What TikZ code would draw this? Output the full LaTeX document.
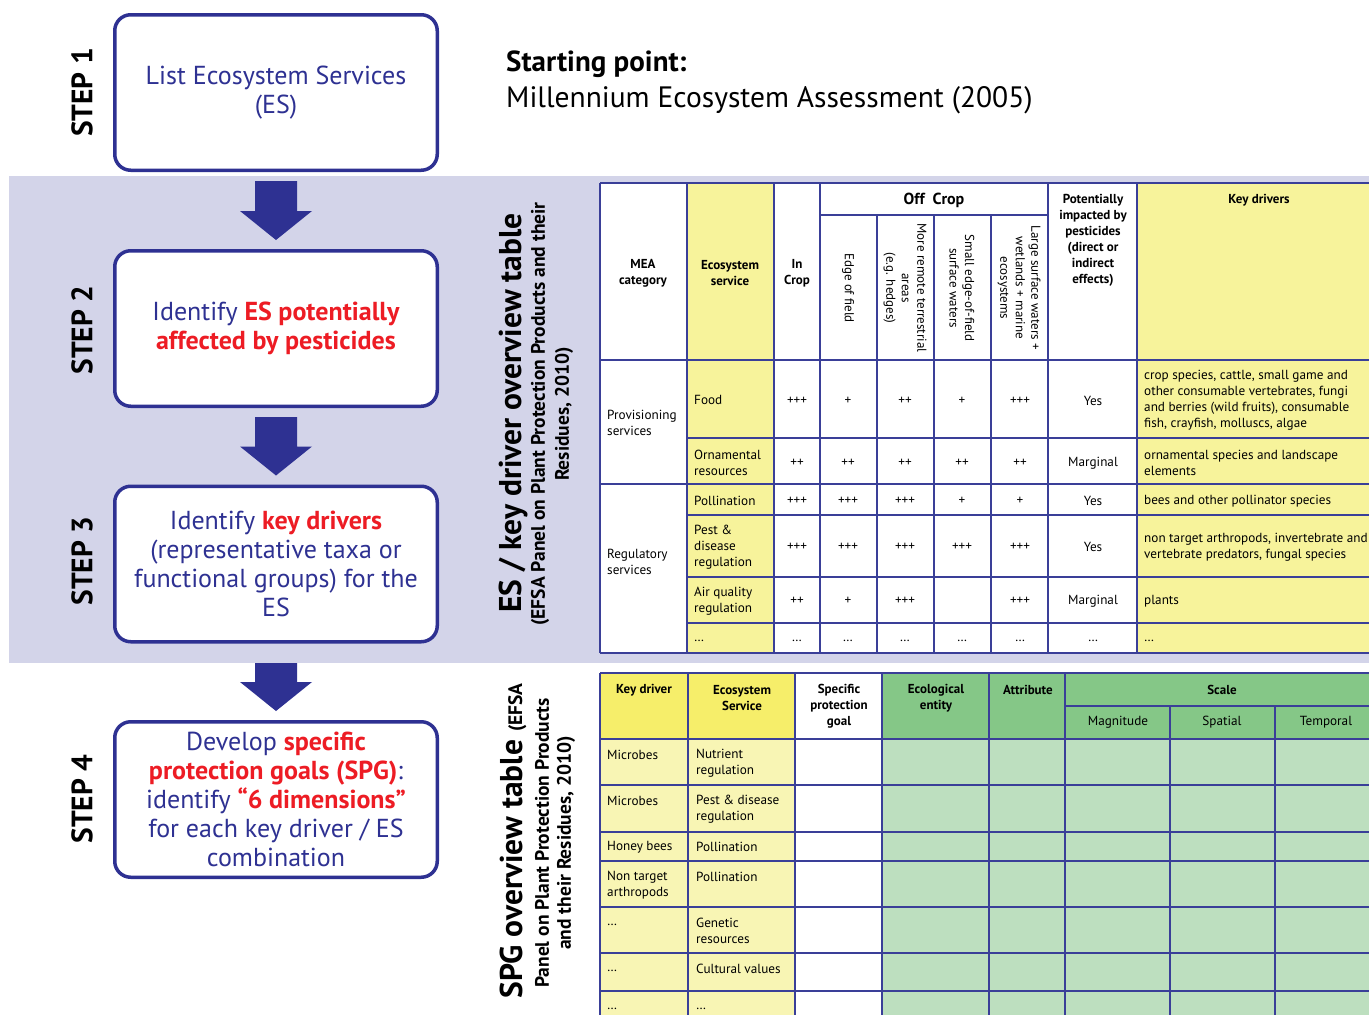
\documentclass[tikz,border=0pt]{standalone}
\usepackage{fontspec}
\setmainfont{PT Sans}
\usetikzlibrary{calc}
\definecolor{dblue}{HTML}{2E3192}
\definecolor{myred}{HTML}{ED1C24}
\definecolor{band}{HTML}{D3D4E9}
\definecolor{tline}{HTML}{3A3F98}
\definecolor{ycol}{HTML}{F7F39B}
\definecolor{yhead}{HTML}{F6EE6A}
\definecolor{ybody}{HTML}{F8F5B4}
\definecolor{ghead}{HTML}{85C787}
\definecolor{gbody}{HTML}{BDDFBF}
\newcommand\myfs[2]{\fontsize{#1}{#2}\selectfont}
\newcommand\blockarr[2]{\fill[dblue] ($(#1)+(-21,0)$) -- ($(#1)+(21,0)$) -- ($(#2)+(21,-29)$) -- ($(#2)+(36,-29)$) -- (#2) -- ($(#2)+(-36,-29)$) -- ($(#2)+(-21,-29)$) -- cycle;}
\begin{document}
\begin{tikzpicture}[x=1pt,y=-1pt,
  stepbox/.style={draw=dblue, line width=3.5pt, rounded corners=16pt, fill=white, minimum width=322.5pt, minimum height=155.5pt, align=center, text=dblue, font=\myfs{26}{29}, inner sep=0pt},
  steplbl/.style={rotate=90, font=\bfseries\myfs{29.5}{30}, inner sep=0pt},
  th/.style={font=\bfseries\myfs{13}{16}, align=center, inner sep=0pt},
  td/.style={font=\myfs{13.2}{16}, align=center, inner sep=0pt},
  tdl/.style={font=\myfs{13.2}{16}, align=left, anchor=west, inner sep=0pt},
  rh/.style={font=\myfs{13}{15.5}, align=center, rotate=-90, inner sep=0pt},
  tl/.style={draw=tline, line width=1.2pt},
  bigt/.style={rotate=90, font=\bfseries\myfs{31.5}{32}, inner sep=0pt},
  subt/.style={rotate=90, font=\bfseries\myfs{19.5}{22}, inner sep=0pt},
]
\useasboundingbox (0,0) rectangle (1369,1015);
\fill[white] (0,0) rectangle (1369,1015);
% band
\fill[band] (9,176) rectangle (1369,663);
\coordinate (bandbot) at (276,663);

% step boxes
\node[stepbox] (s1) at (276,92.5) {List Ecosystem Services\\(ES)};
\node[stepbox] (s2) at (276,328.5) {Identify {\color{myred}\bfseries ES potentially}\\{\color{myred}\bfseries affected by pesticides}};
\node[stepbox] (s3) at (276,564) {Identify {\color{myred}\bfseries key drivers}\\(representative taxa or\\functional groups) for the\\ES};
\node[stepbox] (s4) at (276,799.5) {Develop {\color{myred}\bfseries specific}\\{\color{myred}\bfseries protection goals (SPG)}:\\identify {\color{myred}\bfseries “6 dimensions”}\\for each key driver / ES\\combination};

\node[steplbl] (l1) at (82,92.5) {STEP 1};
\node[steplbl] (l2) at (82,330) {STEP 2};
\node[steplbl] (l3) at (82,561) {STEP 3};
\node[steplbl] (l4) at (82,799) {STEP 4};

% block arrows
\coordinate (a1s) at ($(s1.south)+(0,9)$);
\coordinate (a1e) at ($(s2.north)+(0,-9)$);
\coordinate (a2s) at ($(s2.south)+(0,9)$);
\coordinate (a2e) at ($(s3.north)+(0,-9)$);
\coordinate (a3e) at ($(s4.north)+(0,-9)$);
\blockarr{a1s}{a1e}
\blockarr{a2s}{a2e}
\blockarr{bandbot}{a3e}

% starting point
\node[anchor=west, inner sep=0pt, font=\bfseries\myfs{29}{30}] (sp1) at (506,64) {Starting point:};
\node[anchor=west, inner sep=0pt, font=\myfs{29.5}{30}] (sp2) at (506,100) {Millennium Ecosystem Assessment (2005)};

% side titles
\node[bigt] (t1a) at (513,413) {ES / key driver overview table};
\node[subt] (t1b) at (540,414) {(EFSA Panel on Plant Protection Products and their};
\node[subt] (t1c) at (564,414) {Residues, 2010)};
\node[bigt] (t2a) at (513,841) {SPG overview table {\myfs{19.5}{22}(EFSA}};
\node[subt] (t2b) at (542,843) {Panel on Plant Protection Products};
\node[subt] (t2c) at (566,843) {and their Residues, 2010)};

% ===== top table =====
\fill[white] (600,183) rectangle (1369,653);
\fill[ycol] (687,183) rectangle (774,653);
\fill[ycol] (1137,183) rectangle (1369,653);
\foreach \x in {600,687,774,820,1048,1137} \draw[tl] (\x,183) -- (\x,653);
\foreach \x in {877,934,991} \draw[tl] (\x,215) -- (\x,653);
\draw[tl] (820,215) -- (1048,215);
\foreach \y in {183,360,484,653} \draw[tl] (600,\y) -- (1369,\y);
\foreach \y in {438,515,577,623} \draw[tl] (687,\y) -- (1369,\y);

\node[th] (h1) at (643,273) {MEA\\category};
\node[th] (h2) at (730,273) {Ecosystem\\service};
\node[th] (h3) at (797,273) {In\\Crop};
\node[th, font=\bfseries\myfs{16}{16}] (h4) at (934,200) {Off~ Crop};
\node[th] (h5) at (1093,240) {Potentially\\impacted by\\pesticides\\(direct or\\indirect\\effects)};
\node[th] (h6) at (1259,200) {Key drivers};
\node[rh] (r1) at (848,288) {Edge of field};
\node[rh] (r2) at (905,288) {More remote terrestrial\\areas\\(e.g. hedges)};
\node[rh] (r3) at (962,288) {Small edge-of-field\\surface waters};
\node[rh] (r4) at (1019,288) {Large surface waters +\\wetlands + marine\\ecosystems};

\node[tdl] (m1) at (607,423) {Provisioning\\services};
\node[tdl] (m2) at (607,562) {Regulatory\\services};

\node[tdl] (e1) at (694,400) {Food};
\node[tdl] (e2) at (694,463) {Ornamental\\resources};
\node[tdl] (e3) at (694,501) {Pollination};
\node[tdl] (e4) at (694,547) {Pest \&\\disease\\regulation};
\node[tdl] (e5) at (694,601) {Air quality\\regulation};
\node[tdl] (e6) at (694,641) {…};

\foreach \y/\a/\b/\c/\d/\e/\f [count=\i] in {401/+++/+/++/+/+++/Yes, 463/++/++/++/++/++/Marginal, 501/+++/+++/+++/+/+/Yes, 547/+++/+++/+++/+++/+++/Yes, 601/++/+/+++//+++/Marginal, 641/…/…/…/…/…/…}{
  \node[td] (v\i a) at (797,\y) {\a};
  \node[td] (v\i b) at (848,\y) {\b};
  \node[td] (v\i c) at (905,\y) {\c};
  \node[td] (v\i d) at (962,\y) {\d};
  \node[td] (v\i e) at (1020,\y) {\e};
  \node[td] (v\i f) at (1093,\y) {\f};
}

\node[tdl] (k1) at (1144,400) {crop species, cattle, small game and\\other consumable vertebrates, fungi\\and berries (wild fruits), consumable\\fish, crayfish, molluscs, algae};
\node[tdl] (k2) at (1144,463) {ornamental species and landscape\\elements};
\node[tdl] (k3) at (1144,501) {bees and other pollinator species};
\node[tdl] (k4) at (1144,547) {non target arthropods, invertebrate and\\vertebrate predators, fungal species};
\node[tdl] (k5) at (1144,601) {plants};
\node[tdl] (k6) at (1144,641) {…};

% ===== bottom table =====
\fill[yhead] (600,673) rectangle (795,739);
\fill[white] (795,673) rectangle (882,1015);
\fill[ghead] (882,673) rectangle (1369,739);
\fill[ybody] (600,739) rectangle (795,1015);
\fill[gbody] (882,739) rectangle (1369,1015);
\foreach \x in {600,688,795,882,989,1065} \draw[tl] (\x,673) -- (\x,1015);
\foreach \x in {1170,1275} \draw[tl] (\x,706) -- (\x,1015);
\draw[tl] (1065,706) -- (1369,706);
\foreach \y in {673,739,785,832,861,907,953,991} \draw[tl] (600,\y) -- (1369,\y);

\node[th] (b1) at (644,690) {Key driver};
\node[th] (b2) at (742,698) {Ecosystem\\Service};
\node[th] (b3) at (839,706) {Specific\\protection\\goal};
\node[th] (b4) at (936,698) {Ecological\\entity};
\node[th] (b5) at (1028,690) {Attribute};
\node[th] (b6) at (1222,690) {Scale};
\node[td] (b7) at (1118,722) {Magnitude};
\node[td] (b8) at (1222,722) {Spatial};
\node[td] (b9) at (1326,722) {Temporal};

\node[tdl] (d1) at (607,755) {Microbes};
\node[tdl] (d2) at (607,801) {Microbes};
\node[tdl] (d3) at (607,847) {Honey bees};
\node[tdl] (d4) at (607,885) {Non target\\arthropods};
\node[tdl] (d5) at (607,925) {…};
\node[tdl] (d6) at (607,971) {…};
\node[tdl] (d7) at (607,1009) {…};

\node[tdl] (f1) at (696,763) {Nutrient\\regulation};
\node[tdl] (f2) at (696,809) {Pest \& disease\\regulation};
\node[tdl] (f3) at (696,847) {Pollination};
\node[tdl] (f4) at (696,877) {Pollination};
\node[tdl] (f5) at (696,931) {Genetic\\resources};
\node[tdl] (f6) at (696,969) {Cultural values};
\node[tdl] (f7) at (696,1009) {…};
\end{tikzpicture}
\end{document}
